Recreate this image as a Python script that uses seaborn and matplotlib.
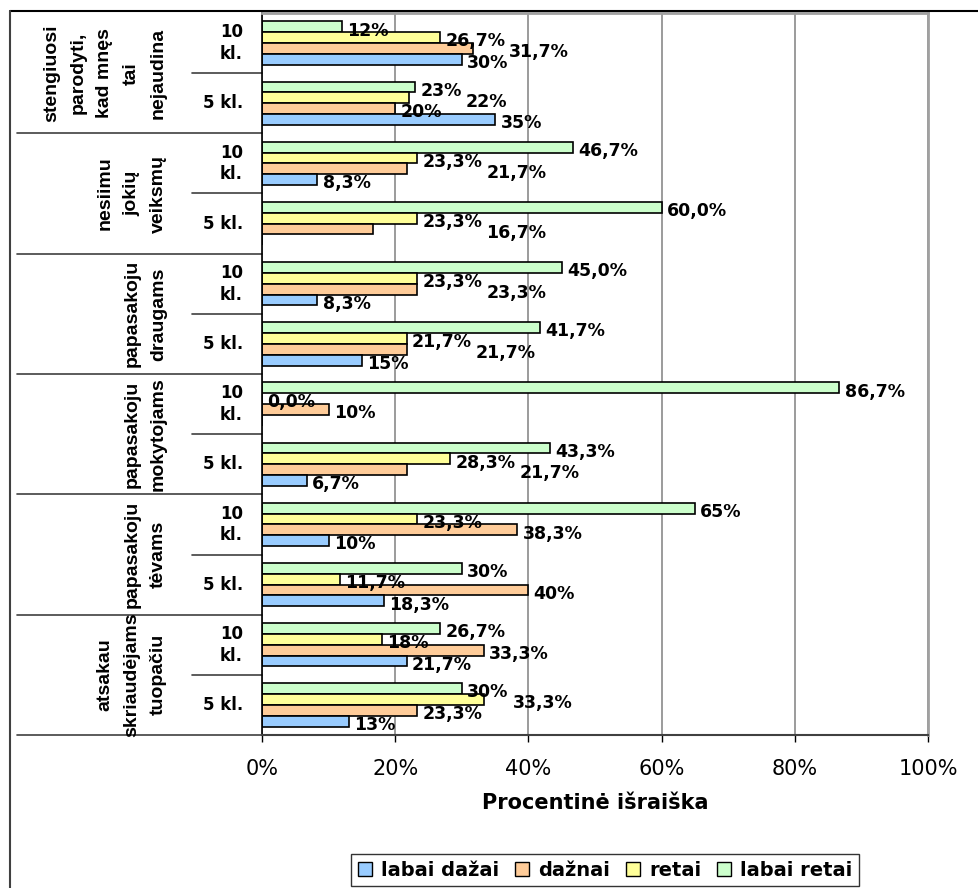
import matplotlib
matplotlib.use("Agg")
import matplotlib.pyplot as plt
from matplotlib.lines import Line2D
from matplotlib.patches import Patch
import pandas as pd
import seaborn as sns

# duomenys (iš viršaus į apačią)
groups = [
    "stengiuosi\nparodyti,\nkad mnęs\ntai\nnejaudina",
    "nesiimu\njokių\nveiksmų",
    "papasakoju\ndraugams",
    "papasakoju\nmokytojams",
    "papasakoju\ntėvams",
    "atsakau\nskriaudėjams\ntuopačiu",
]
classes = ["10\nkl.", "5 kl."]

labai_retai = [12, 23, 46.7, 60.0, 45.0, 41.7, 86.7, 43.3, 65, 30, 26.7, 30]
retai = [26.7, 22, 23.3, 23.3, 23.3, 21.7, 0, 28.3, 23.3, 11.7, 18, 33.3]
daznai = [31.7, 20, 21.7, 16.7, 23.3, 21.7, 10, 21.7, 38.3, 40, 33.3, 23.3]
labai_dazai = [30, 35, 8.3, 0, 8.3, 15, 0, 6.7, 10, 18.3, 21.7, 13]

lbl_labai_retai = ["12%", "23%", "46,7%", "60,0%", "45,0%", "41,7%", "86,7%", "43,3%", "65%", "30%", "26,7%", "30%"]
lbl_retai = ["26,7%", "22%", "23,3%", "23,3%", "23,3%", "21,7%", "0,0%", "28,3%", "23,3%", "11,7%", "18%", "33,3%"]
lbl_daznai = ["31,7%", "20%", "21,7%", "16,7%", "23,3%", "21,7%", "10%", "21,7%", "38,3%", "40%", "33,3%", "23,3%"]
lbl_labai_dazai = ["30%", "35%", "8,3%", "", "8,3%", "15%", "", "6,7%", "10%", "18,3%", "21,7%", "13%"]

series_names = ["labai retai", "retai", "dažnai", "labai dažai"]
colors = {"labai dažai": "#99CCFF", "dažnai": "#FFCC99", "retai": "#FFFF99", "labai retai": "#CCFFCC"}
x_ticks = [0, 20, 40, 60, 80, 100]
x_tick_labels = ["0%", "20%", "40%", "60%", "80%", "100%"]

slots = [f"{g}|{c}" for g in range(len(groups)) for c in classes]
rows = []
for name, vals in zip(series_names, [labai_retai, retai, daznai, labai_dazai]):
    for s, v in zip(slots, vals):
        rows.append({"slot": s, "serija": name, "value": v})
df = pd.DataFrame(rows)

sns.set_style("white")
plt.rcParams["font.family"] = ["DejaVu Sans"]
plt.rcParams["text.color"] = "black"
plt.rcParams["axes.labelcolor"] = "black"
plt.rcParams["xtick.color"] = "black"

W, H = 979, 888
fig = plt.figure(figsize=(W / 100, H / 100), dpi=100)
L, R, T, B = 262, 928, 13, 735
ax = fig.add_axes([L / W, 1 - B / H, (R - L) / W, (B - T) / H])

sns.barplot(data=df, y="slot", x="value", hue="serija", order=slots,
            hue_order=series_names, palette=colors, width=0.72,
            edgecolor="black", linewidth=1.2, orient="h", legend=False,
            saturation=1, ax=ax)

ax.set_xlim(0, 100)
ax.set_ylim(len(slots) - 0.5, -0.5)
ax.set_xticks(x_ticks)
ax.set_xticklabels(x_tick_labels)
ax.tick_params(axis="x", length=5, width=1, pad=12, labelsize=15, bottom=True)
ax.set_yticks([])
ax.set_ylabel("")
ax.set_xlabel("Procentinė išraiška", fontsize=15, fontweight="bold")
ax.xaxis.set_label_coords(0.5, (B - 803) / (B - T))
ax.xaxis.label.set_va("center")
ax.grid(axis="x", color="#808080", lw=1.1)
ax.set_axisbelow(True)

for side in ["top", "right"]:
    ax.spines[side].set_color("#a0a0a0")
    ax.spines[side].set_linewidth(2)
ax.spines["left"].set_color("black")
ax.spines["left"].set_linewidth(1.2)
ax.spines["bottom"].set_color("#404040")
ax.spines["bottom"].set_linewidth(1.5)

# reikšmių etiketės: prie stulpelio galo, persidengiančias stumiam į dešinę
renderer = fig.canvas.get_renderer()
px_per_unit = (R - L) / 100
row_px = (B - T) / len(slots)
bar_h = 0.72 / 4
all_labels = [lbl_labai_retai, lbl_retai, lbl_daznai, lbl_labai_dazai]
items = []
for cont, labs in zip(ax.containers, all_labels):
    for bar, txt in zip(cont, labs):
        if txt:
            yc = bar.get_y() + bar.get_height() / 2 + 0.35 * bar_h
            items.append((yc, bar.get_width(), txt))
items.sort()
placed = []
for yc, w, txt in items:
    t = ax.text(w + 0.8, yc, txt, ha="left", va="center",
                fontsize=12.5, fontweight="bold", color="black")
    tw = t.get_window_extent(renderer).width / px_per_unit
    x0 = w + 0.8
    for (py, px0, px1) in placed:
        if abs(py - yc) * row_px < 15 and x0 < px1 and x0 + tw > px0:
            x0 = px1 + 0.6
    t.set_x(x0)
    placed.append((yc, x0, x0 + tw))

# kategorijų ašis
yt = ax.get_yaxis_transform()
px = lambda x: (x - L) / (R - L)
for i, s in enumerate(slots):
    c = classes[i % 2]
    ax.text(px(243), i, c, transform=yt, ha="right", va="center",
            multialignment="right", fontsize=12, fontweight="bold",
            linespacing=1.25)
for g, name in enumerate(groups):
    ax.text(px(167), 2 * g + 0.5, name, transform=yt, rotation=90,
            ha="right", va="center", multialignment="center",
            fontsize=14, fontweight="bold", linespacing=1.75,
            family=["Liberation Sans", "DejaVu Sans"])
for k in range(len(slots)):
    yb = k + 0.5
    x0 = px(17) if k % 2 == 1 else px(192)
    ax.add_line(Line2D([x0, 0], [yb, yb], transform=yt, color="#404040",
                       lw=1.2, clip_on=False))

# rėmelis
fig.add_artist(Line2D([10 / W, 1], [1 - 11 / H, 1 - 11 / H], transform=fig.transFigure,
                      color="black", lw=1.5))
fig.add_artist(Line2D([10 / W, 10 / W], [0, 1 - 11 / H], transform=fig.transFigure,
                      color="#404040", lw=1.5))

handles = [Patch(facecolor=colors[n], edgecolor="black", lw=1) for n in series_names[::-1]]
leg = fig.legend(handles, series_names[::-1], loc="center",
                 bbox_to_anchor=(605 / W, 1 - 870 / H), ncol=4, frameon=True,
                 fancybox=False, edgecolor="black", handlelength=0.75,
                 handleheight=0.75, handletextpad=0.45, columnspacing=0.8,
                 borderpad=0.35, prop={"size": 14, "weight": "bold"})
leg.get_frame().set_linewidth(1.0)

fig.savefig("out.png", dpi=100)
